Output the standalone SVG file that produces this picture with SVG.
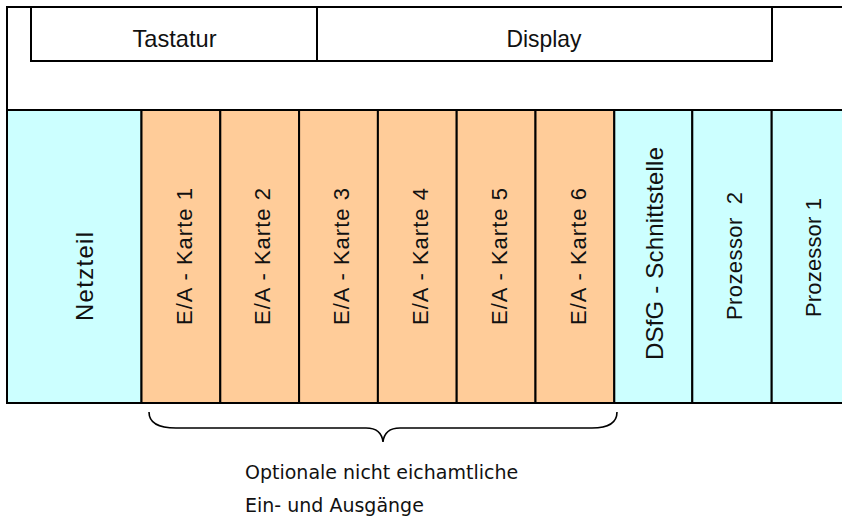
<svg xmlns="http://www.w3.org/2000/svg" width="842" height="521" viewBox="0 0 842 521">
  <style>
    .frame { fill: none; stroke: #000; stroke-width: 2; }
    .cyan { fill: #CCFFFF; stroke: #000; stroke-width: 2; }
    .orange { fill: #FFCC99; stroke: #000; stroke-width: 2; }
    .lbl { font-family: "Liberation Sans", Arial, sans-serif; font-size: 22px; fill: #111; text-anchor: middle; }
    .big { font-size: 24px; }
    .top { font-family: "Liberation Sans", Arial, sans-serif; font-size: 24px; fill: #111; text-anchor: middle; }
    .note { font-family: "DejaVu Sans", Verdana, sans-serif; font-size: 19px; fill: #111; }
    .brace { fill: none; stroke: #000; stroke-width: 1.6; }
  </style>
  <rect width="842" height="521" fill="#fff"/>

  <!-- housing outline -->
  <g id="housing">
    <path class="frame" d="M842,7 H7 V403 H842 M7,110 H842"/>
  </g>

  <!-- operating panel -->
  <g id="tastatur">
    <rect class="frame" x="31" y="7" width="286" height="54"/>
    <text class="top" x="174.5" y="47" textLength="84" lengthAdjust="spacingAndGlyphs">Tastatur</text>
  </g>
  <g id="display">
    <rect class="frame" x="317" y="7" width="455" height="54"/>
    <text class="top" x="544" y="47" textLength="75" lengthAdjust="spacingAndGlyphs">Display</text>
  </g>

  <!-- card slots -->
  <g id="netzteil">
    <rect class="cyan" x="7" y="110" width="134.5" height="293"/>
    <text class="lbl big" transform="translate(93,276.5) rotate(-90)" textLength="89" lengthAdjust="spacing">Netzteil</text>
  </g>
  <g id="karte1">
    <rect class="orange" x="141.5" y="110" width="78.8" height="293"/>
    <text class="lbl" transform="translate(191.5,256.5) rotate(-90)" textLength="137" lengthAdjust="spacing">E/A - Karte 1</text>
  </g>
  <g id="karte2">
    <rect class="orange" x="220.3" y="110" width="78.8" height="293"/>
    <text class="lbl" transform="translate(270.3,256.5) rotate(-90)" textLength="137" lengthAdjust="spacing">E/A - Karte 2</text>
  </g>
  <g id="karte3">
    <rect class="orange" x="299.1" y="110" width="78.8" height="293"/>
    <text class="lbl" transform="translate(349.1,256.5) rotate(-90)" textLength="137" lengthAdjust="spacing">E/A - Karte 3</text>
  </g>
  <g id="karte4">
    <rect class="orange" x="377.9" y="110" width="78.8" height="293"/>
    <text class="lbl" transform="translate(427.9,256.5) rotate(-90)" textLength="137" lengthAdjust="spacing">E/A - Karte 4</text>
  </g>
  <g id="karte5">
    <rect class="orange" x="456.7" y="110" width="78.8" height="293"/>
    <text class="lbl" transform="translate(506.7,256.5) rotate(-90)" textLength="137" lengthAdjust="spacing">E/A - Karte 5</text>
  </g>
  <g id="karte6">
    <rect class="orange" x="535.5" y="110" width="78.8" height="293"/>
    <text class="lbl" transform="translate(585.5,256.5) rotate(-90)" textLength="137" lengthAdjust="spacing">E/A - Karte 6</text>
  </g>
  <g id="dsfg">
    <rect class="cyan" x="614.3" y="110" width="78" height="293"/>
    <text class="lbl big" transform="translate(663,253.5) rotate(-90)" textLength="213" lengthAdjust="spacing">DSfG - Schnittstelle</text>
  </g>
  <g id="prozessor2">
    <rect class="cyan" x="692.3" y="110" width="79.4" height="293"/>
    <text class="lbl" transform="translate(742,256) rotate(-90)" textLength="128" lengthAdjust="spacing">Prozessor&#160; 2</text>
  </g>
  <g id="prozessor1">
    <rect class="cyan" x="771.7" y="110" width="80" height="293"/>
    <text class="lbl" transform="translate(821,257.5) rotate(-90)" textLength="119" lengthAdjust="spacing">Prozessor 1</text>
  </g>

  <!-- brace over the optional I/O cards -->
  <g id="connectors">
    <path class="brace" d="M149,412 C149,422 158,428 176,428 L366,428 C376,428 382,433 383,442 C384,433 390,428 400,428 L592,428 C609,428 617,422 617,412"/>
  </g>

  <g id="hinweis">
    <text class="note" x="245" y="479">Optionale nicht eichamtliche</text>
    <text class="note" x="245" y="512">Ein- und Ausgänge</text>
  </g>
</svg>
